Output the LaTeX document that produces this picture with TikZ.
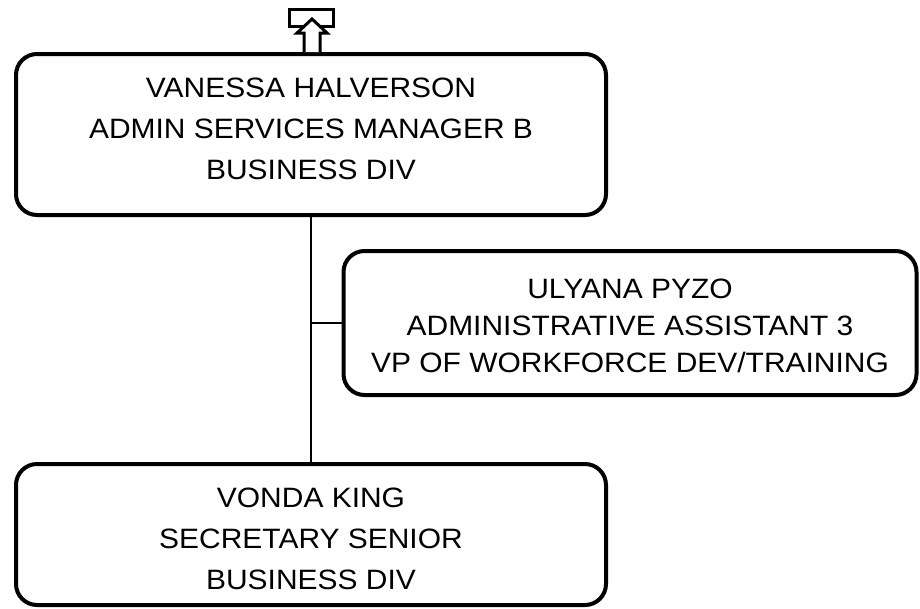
\documentclass[tikz,border=0pt]{standalone}
\usepackage{fontspec}
\setmainfont{Liberation Sans}[FakeStretch=1.07]
\begin{document}
\begin{tikzpicture}[x=1pt,y=-1pt,
  person/.style={draw=black, line width=4pt, rounded corners=21pt, fill=white, inner sep=0pt},
  label text/.style={align=center, inner sep=0pt, font=\fontsize{28}{41}\selectfont},
  conn/.style={draw=black, line width=2pt},
  icon/.style={draw=black, line width=3pt, fill=white}]
\useasboundingbox (0,0) rectangle (920,608);
\node[person, minimum width=590pt, minimum height=161pt] (vh) at (311,134.5) {};
\node[label text] (vht) at (311,129)
  {VANESSA HALVERSON\\ADMIN SERVICES MANAGER B\\BUSINESS DIV};
\node[person, minimum width=573pt, minimum height=144pt] (up) at (630,323) {};
\node[label text, font=\fontsize{28}{37}\selectfont] (upt) at (630,326)
  {ULYANA PYZO\\ADMINISTRATIVE ASSISTANT 3\\VP OF WORKFORCE DEV/TRAINING};
\node[person, minimum width=590pt, minimum height=141pt] (vk) at (311,534.5) {};
\node[label text] (vkt) at (311,539)
  {VONDA KING\\SECRETARY SENIOR\\BUSINESS DIV};
\coordinate (j) at (vh.south |- up.west);
\draw[conn] (vh.south) -- (vk.north);
\draw[conn] (j) -- (up.west);
% up-link icon
\node[icon, minimum width=44pt, minimum height=17pt, inner sep=0pt] (ub) at (311.5,17.5) {};
\coordinate (ut) at (312,19);
\draw[icon, line join=miter] (304,52) -- (304,33) -- (297,33) -- (ut) -- (327,33) -- (320,33) -- (320,52);
\end{tikzpicture}
\end{document}
